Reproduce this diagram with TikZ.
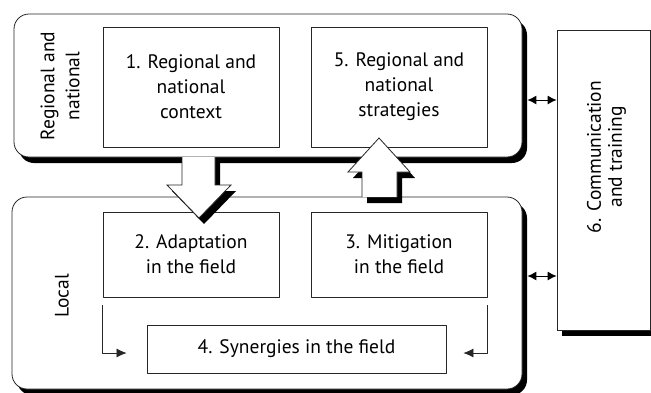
\documentclass[tikz,border=0pt]{standalone}
\usepackage{fontspec}
\setmainfont{PT Sans}
\usepackage{tikz}
\usetikzlibrary{arrows, arrows.meta, shadows, calc}

\tikzset{
  shade/.style={drop shadow={shadow xshift=5pt, shadow yshift=-6pt, opacity=1, fill=black}},
  region/.style={draw=black!85, line width=.8pt, fill=white, rounded corners=15pt, shade},
  task/.style={draw=black!85, line width=.8pt, fill=white, align=center, inner sep=0pt},
  side/.style={align=center, rotate=90, inner sep=0pt},
  fat/.style={draw=black!85, line width=.8pt, fill=white, line join=miter, shade},
  link/.style={-{Latex[length=10pt,width=9pt]}, line width=.7pt, black!85},
  both/.style={{Latex[length=9pt,width=9pt]}-{Latex[length=9pt,width=9pt]}, line width=1pt}
}

\begin{document}
\begin{tikzpicture}[>=latex', line join=bevel, x=1pt, y=-1pt,
    every node/.style={font=\fontsize{19.5}{25}\selectfont}]
        \useasboundingbox (0,0) rectangle (651,392);
        % two levels
        \node[region, minimum width=508pt, minimum height=143pt] (reg) at (268,85.5) {};
        \node[region, minimum width=510pt, minimum height=192pt] (loc) at (267,293) {};
        \node[fat, minimum width=93pt, minimum height=300pt] (comm) at (603.5,180) {};

        \node[side] (reglabel) at (60,86) {Regional and\\national};
        \node[side] (loclabel) at (62,296) {Local};
        \node[side, font=\fontsize{19.5}{21}\selectfont] (commlabel) at ([xshift=3pt,yshift=23pt]comm.center) {6. Communication\\and training};

        % tasks
        \node[task, minimum width=176pt, minimum height=120pt] (ctx) at (191,87) {1. Regional and\\national\\context};
        \node[task, minimum width=176pt, minimum height=120pt] (strat) at (399,87) {5. Regional and\\national\\strategies};
        \node[task, minimum width=176pt, minimum height=85pt] (adapt) at (191,254.5) {2. Adaptation\\in the field};
        \node[task, minimum width=176pt, minimum height=85pt] (mitig) at (399,254.5) {3. Mitigation\\in the field};
        \node[task, minimum width=299pt, minimum height=48pt] (syn) at (296.5,349) {4. Synergies in the field};

        % block arrows
        \path[fat] (182,157) -- (182,185) -- (167,185) -- (199,218) -- (231,185) -- (215,185) -- (215,157);
        \path[fat] (362,197) -- (362,172) -- (348,172) -- (379,138) -- (410,172) -- (397,172) -- (397,197);

        \draw[link] ([yshift=-8pt]adapt.south west) |- ([xshift=-20pt,yshift=-4pt]syn.west);
        \draw[link] ([yshift=-8pt]mitig.south east) |- ([xshift=17pt,yshift=-4pt]syn.east);

        \draw[both] ([xshift=5pt,yshift=-14.5pt]reg.east) -- ([yshift=-14.5pt]reg.east -| comm.west);
        \draw[both] ([xshift=5pt,yshift=17pt]loc.east) -- ([yshift=17pt]loc.east -| comm.west);
      \end{tikzpicture}
\end{document}
